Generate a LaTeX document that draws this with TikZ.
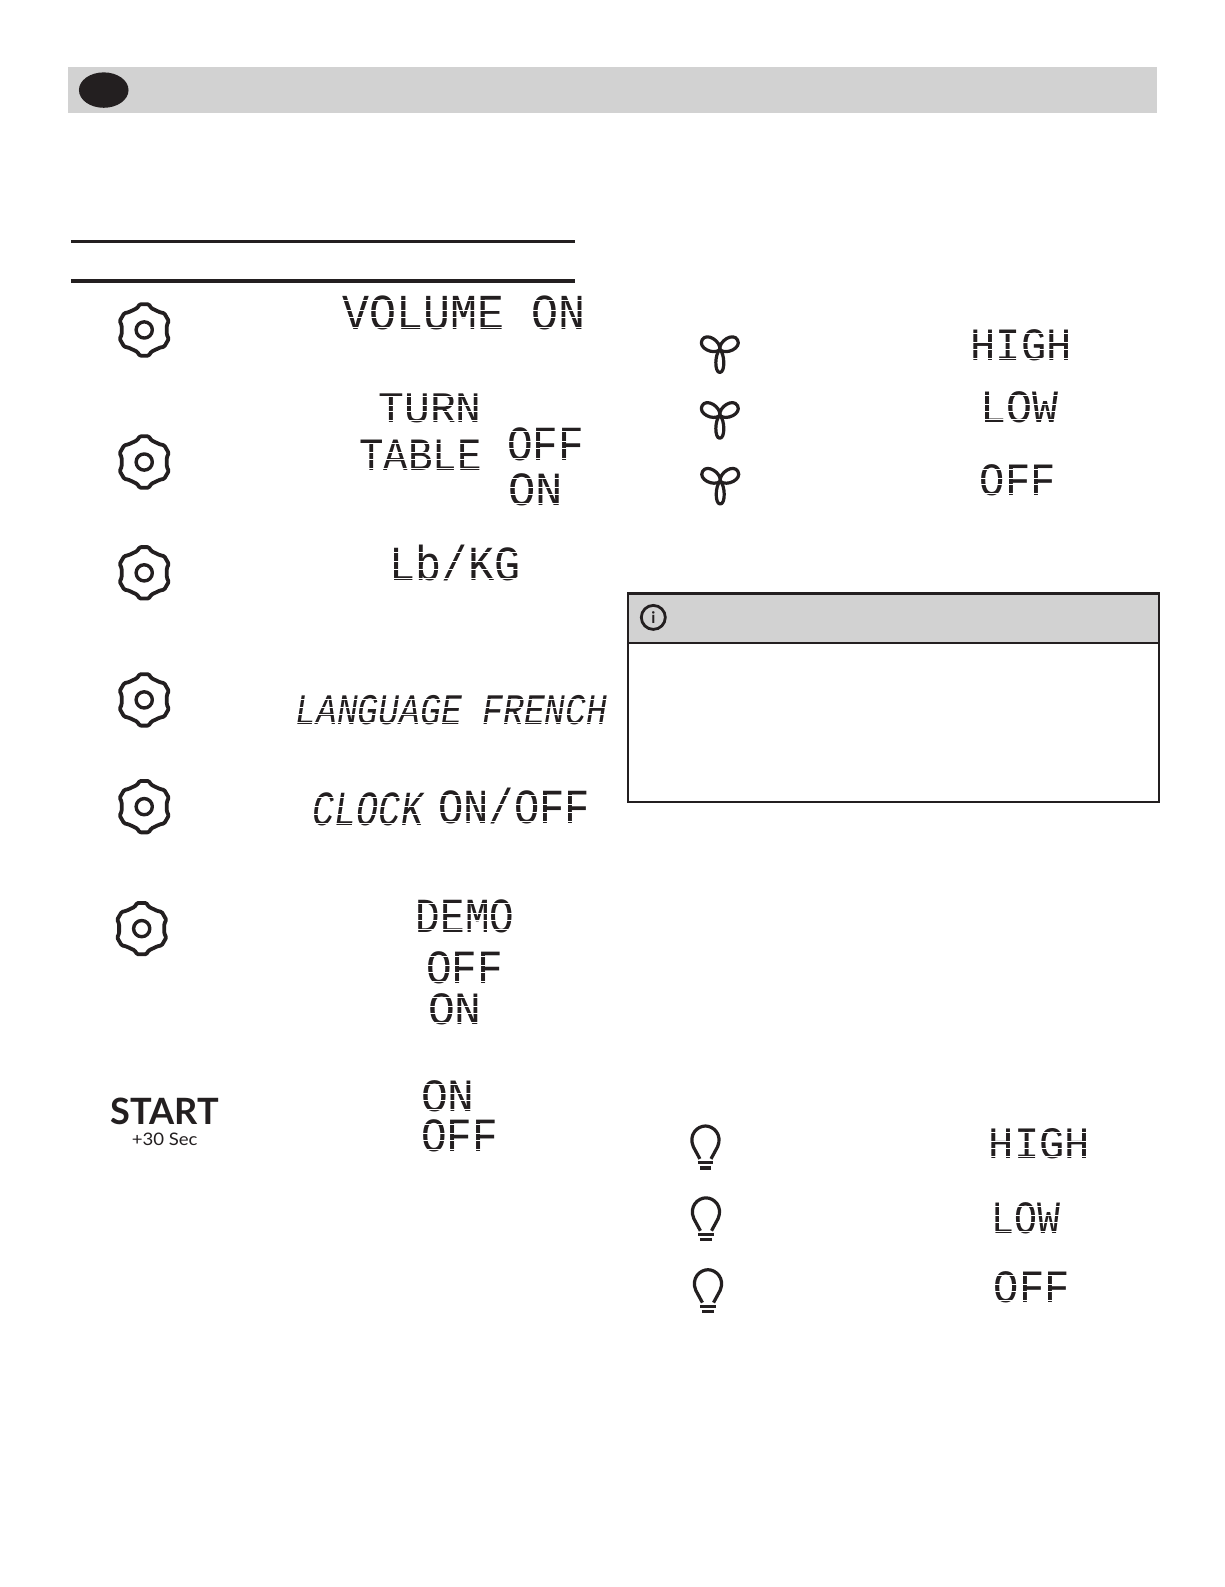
\documentclass[tikz,border=0pt]{standalone}
\usepackage{fontspec}
\usepackage{graphicx}
\setmainfont{Lato}
\newfontfamily\lcdfont{Liberation Mono}
\definecolor{ink}{HTML}{231F20}
\definecolor{band}{HTML}{D2D2D2}
\usetikzlibrary{calc}
\newsavebox{\lcdbox}
% name, x0, y0, x1, y1, text: the text is fitted to the box, then the joints between segments are opened
\newcommand{\lcd}[6]{%
  \pgfmathsetmacro{\lw}{(#4-#2)*1.0124}\pgfmathsetmacro{\lh}{(#5-#3)*1.0124*0.94}%
  \node[lcdtext,anchor=north west] (#1) at (#2,#3) {%
    \sbox{\lcdbox}{\lcdfont #6}\ht\lcdbox=0.70em\dp\lcdbox=0pt
    \resizebox{\lw pt}{\lh pt}{\usebox{\lcdbox}}};%
  \lcdcuts{#2}{#3}{#4}{#5}}
\newcommand{\lcdi}[6]{%
  \pgfmathsetmacro{\lw}{(#4-#2)*1.0124}\pgfmathsetmacro{\lh}{(#5-#3)*1.0124*0.94}%
  \node[lcdtext,anchor=north west] (#1) at (#2,#3) {%
    \sbox{\lcdbox}{\lcdfont\itshape #6}\ht\lcdbox=0.70em\dp\lcdbox=0pt
    \resizebox{\lw pt}{\lh pt}{\usebox{\lcdbox}}};%
  \lcdcuts{#2}{#3}{#4}{#5}}
\newcommand{\lcdcuts}[4]{%
  \foreach \f in {0.16,0.42,0.62,0.88}{%
    \pgfmathsetmacro{\cy}{#2+\f*(#4-#2)}%
    \draw[lcdcut] (#1-3,\cy) -- (#3+3,\cy);}}
\tikzset{
  lcdtext/.style={inner sep=0pt,outer sep=0pt,text=ink},
  lcdcut/.style={white,line width=1pt},
  icon/.style={draw=ink,line width=3.2pt,line join=round,line cap=round},
  rulebar/.style={draw=ink,line width=3.4pt},
  pics/gear/.style={code={
    \draw[icon,line width=3.8pt,rounded corners=1.2pt]
      (80:25.8) -- (100:25.8) -- (108:22.6) -- (132:23.4) -- (140:25.8) -- (160:25.8) -- (168:22.8)
      -- (192:22.8) -- (200:25.8) -- (220:25.8) -- (228:23.4) -- (252:22.6) -- (260:25.8) -- (280:25.8) -- (288:22.6)
      -- (312:23.4) -- (320:25.8) -- (340:25.8) -- (348:22.8) -- (12:22.8) -- (20:25.8) -- (40:25.8) -- (48:23.4) -- (72:22.6) -- cycle;
    \draw[icon,line width=3.4pt] (0,0) circle (8);
  }},
  pics/fan/.style={code={
    \draw[icon] (0,0) .. controls (-5,4) and (-5.5,22.5) .. (0,22.5) .. controls (5.5,22.5) and (5,4) .. (0,0);
    \foreach \r in {119,-119}{
      \draw[icon,rotate=\r] (0,0) .. controls (-8,3) and (-9,20) .. (0,20) .. controls (9,20) and (8,3) .. (0,0);
    }
  }},
  pics/bulb/.style={code={
    \draw[icon,line cap=butt] (-5.5,18) -- (-12,6) .. controls (-17,-6) and (-8,-14.5) .. (0,-14.5)
       .. controls (8,-14.5) and (17,-6) .. (12,6) -- (5.5,18);
    \draw[icon,line cap=butt] (-7.5,21.5) -- (7.5,21.5);
    \draw[icon,line cap=butt] (-5.5,27) -- (5.5,27);
  }},
}
\begin{document}
\begin{tikzpicture}[x=1.0124pt,y=-1.0124pt]
\useasboundingbox (0,0) rectangle (1210,1568);
\fill[white] (0,0) rectangle (1210,1568);
% header band
\fill[band] (67,66) rectangle (1143,111.5);
\fill[ink] (102.5,89) ellipse (24.5 and 17.5);
% rules
\draw[rulebar] (70,238.5) -- (568.5,238.5);
\draw[rulebar] (70,277.5) -- (568.5,277.5);
% gears
\pic at (142.5,326) {gear};
\pic at (142.5,456.5) {gear};
\pic at (142.5,566) {gear};
\pic at (142.5,691.5) {gear};
\pic at (142.5,797) {gear};
\pic at (140,917.5) {gear};
% left LCD texts
\lcd{vol}{338}{291}{578}{328}{VOLUME ON}
\lcd{turn}{374}{387}{476}{419}{TURN}
\lcd{table}{355}{433}{476}{467}{TABLE}
\lcd{ttoff}{501}{421}{577}{457}{OFF}
\lcd{tton}{502}{467}{556}{502}{ON}
\lcd{lbkg}{385}{540}{514}{576}{Lb/KG}
\lcdi{lang}{292}{686}{600}{718}{LANGUAGE FRENCH}
\lcdi{clock}{309}{782}{418}{818}{CLOCK}
\lcd{onoff}{433}{780}{583}{816}{ON/OFF}
\lcd{demo}{411}{887}{508}{923}{DEMO}
\lcd{demooff}{421}{939}{497}{974}{OFF}
\lcd{demoon}{423}{980}{476}{1014}{ON}
\lcd{starton}{416}{1066}{469}{1100}{ON}
\lcd{startoff}{416}{1105}{492}{1140}{OFF}
% start key
\node[inner sep=0pt,text=ink,anchor=north west] (startkey) at (109,1085) {\resizebox{108.3pt}{26.5pt}{\bfseries START}};
\node[inner sep=0pt,text=ink,anchor=north west] (startsub) at (130,1119) {\resizebox{65.8pt}{12.5pt}{+30 Sec}};
% fan
\pic at (711.2,345.5) {fan};
\pic at (711.2,410.5) {fan};
\pic at (711.6,475.5) {fan};
\lcd{fanhigh}{959}{324}{1059}{358}{HIGH}
\lcd{fanlow}{969}{385}{1046}{419}{LOW}
\lcd{fanoff}{968}{458}{1043}{492}{OFF}
% info box
\fill[band] (620,586) rectangle (1145,635);
\draw[ink,line width=2pt] (620,586) rectangle (1145,792);
\draw[ink,line width=3pt] (620,586) -- (1145,586);
\draw[ink,line width=2pt] (620,635) -- (1145,635);
\node[draw=ink,line width=2.8pt,circle,minimum size=24pt,inner sep=0pt,text=ink,font=\bfseries\fontsize{16pt}{16pt}\selectfont] (infoicon) at (645.5,610) {i};
% light
\pic at (697,1127) {bulb};
\pic at (697.5,1198) {bulb};
\pic at (699.5,1269) {bulb};
\lcd{lighthigh}{977}{1114}{1077}{1147}{HIGH}
\lcd{lightlow}{980}{1187}{1048}{1221}{LOW}
\lcd{lightoff}{982}{1255}{1057}{1289}{OFF}
\end{tikzpicture}
\end{document}
